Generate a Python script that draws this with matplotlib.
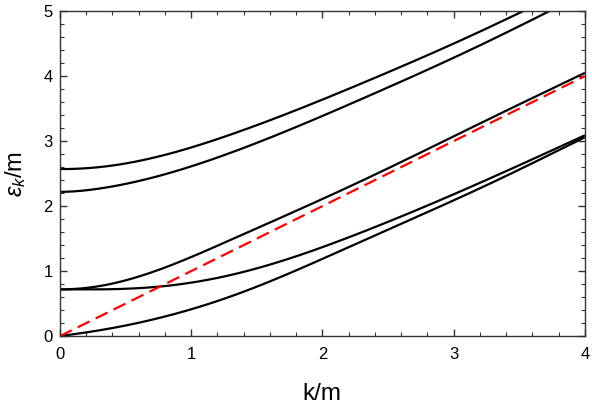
#!/usr/bin/env python3
"""
    Dispersion branches eps_k/m versus k/m, with the light line eps = k
"""
import numpy as np
from matplotlib import pyplot as plt
from matplotlib.ticker import MultipleLocator

# values
k_top   = [0.0, 0.3, 1.3, 2.29, 3.28, 3.53]
e_top   = [2.57, 2.60, 3.10, 3.88, 4.76, 5.0]

k_2nd   = [0.0, 0.3, 1.3, 2.29, 3.28, 3.73]
e_2nd   = [2.22, 2.27, 2.82, 3.64, 4.55, 5.0]

k_3rd   = [0.0, 0.3, 1.3, 2.29, 3.28, 4.0]
e_3rd   = [0.72, 0.77, 1.48, 2.38, 3.35, 4.05]

k_4th   = [0.0, 0.3, 0.77, 1.3, 2.29, 3.28, 4.0]
e_4th   = [0.72, 0.72, 0.765, 0.94, 1.59, 2.43, 3.09]

k_bot   = [0.0, 0.3, 1.3, 2.29, 3.28, 4.0]
e_bot   = [0.0, 0.09, 0.61, 1.45, 2.35, 3.06]

k_light = [0.0, 4.0]
e_light = [0.0, 4.0]


def spline(x, y, flat_start=True, n=300):
    """ cubic spline through the read points, zero slope at k=0 if asked """
    x = np.asarray(x, float)
    y = np.asarray(y, float)
    N = len(x)
    h = np.diff(x)
    A = np.zeros((N, N))
    b = np.zeros(N)
    # unknowns: second derivatives M_i
    for i in range(1, N - 1):
        A[i, i-1] = h[i-1]
        A[i, i]   = 2*(h[i-1] + h[i])
        A[i, i+1] = h[i]
        b[i] = 6*((y[i+1]-y[i])/h[i] - (y[i]-y[i-1])/h[i-1])
    if flat_start:
        A[0, 0], A[0, 1] = 2*h[0], h[0]
        b[0] = 6*((y[1]-y[0])/h[0])
    else:
        A[0, 0] = 1
    A[-1, -1] = 1
    M = np.linalg.solve(A, b)
    xs = np.linspace(x[0], x[-1], n)
    i = np.clip(np.searchsorted(x, xs) - 1, 0, N - 2)
    t1 = x[i+1] - xs
    t0 = xs - x[i]
    ys = (M[i]*t1**3 + M[i+1]*t0**3)/(6*h[i]) \
        + (y[i]/h[i] - M[i]*h[i]/6)*t1 + (y[i+1]/h[i] - M[i+1]*h[i]/6)*t0
    return xs, ys


plt.rcParams['font.family'] = ['Liberation Sans', 'DejaVu Sans']
plt.rcParams['mathtext.fontset'] = 'custom'
plt.rcParams['mathtext.rm'] = 'Liberation Sans'
plt.rcParams['mathtext.it'] = 'Liberation Sans:italic'

fig = plt.figure(figsize=(5.92, 4.11), dpi=100)
ax = fig.add_axes([0.101, 0.182, 0.887, 0.791])

curves = [(k_top, e_top, True), (k_2nd, e_2nd, True), (k_3rd, e_3rd, True),
          (k_4th, e_4th, True), (k_bot, e_bot, False)]
for kk, ee, flat in curves:
    xs, ys = spline(kk, ee, flat)
    ax.plot(xs, ys, color='black', lw=1.6, solid_capstyle='butt')

ax.plot(k_light, e_light, color='red', lw=1.6, ls=(0, (6, 3)))

ax.set_xlim(0, 4)
ax.set_ylim(0, 5)

ax.xaxis.set_major_locator(MultipleLocator(1))
ax.xaxis.set_minor_locator(MultipleLocator(0.2))
ax.yaxis.set_major_locator(MultipleLocator(1))
ax.yaxis.set_minor_locator(MultipleLocator(0.2))

ax.tick_params(which='both', direction='in', top=True, right=True,
               color='#333333', labelsize=12)
ax.tick_params(which='major', length=5, width=1)
ax.tick_params(which='minor', length=3, width=0.8)
ax.tick_params(axis='x', pad=8)
ax.tick_params(axis='y', pad=5)

for sp in ax.spines.values():
    sp.set_color('#333333')
    sp.set_linewidth(1.0)

ax.set_xlabel('k/m', fontsize=17.5, labelpad=15)
ax.set_ylabel(r'$\epsilon_k$/m', fontsize=17)
ax.yaxis.set_label_coords(-0.06, 0.5)

fig.savefig('out.png', dpi=100)
